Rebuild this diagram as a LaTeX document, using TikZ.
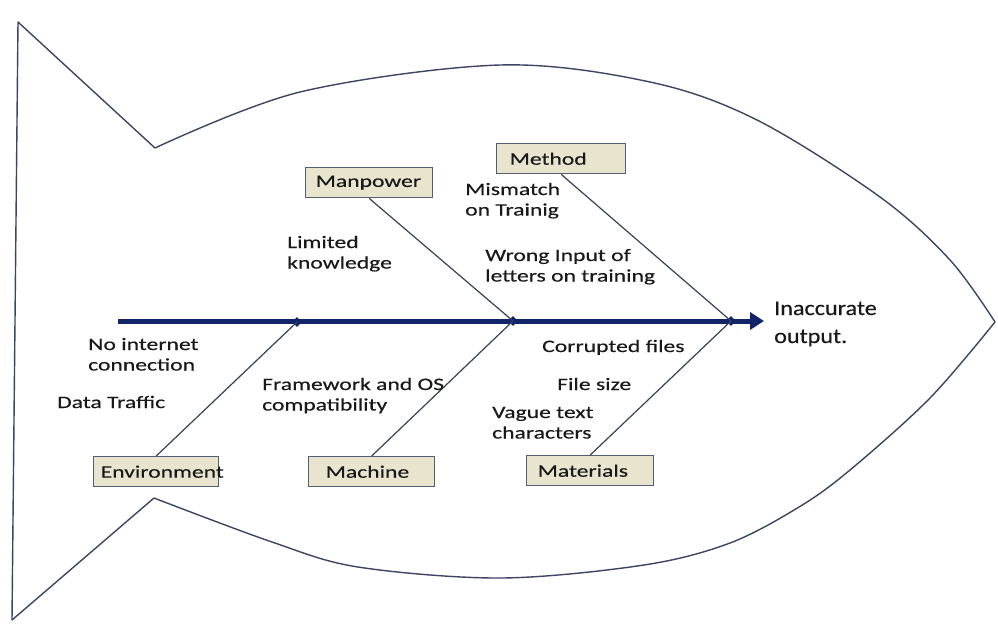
\documentclass[tikz,border=0pt]{standalone}
\usepackage{fontspec}
\setmainfont{Carlito}[FakeStretch=1.35,FakeBold=0.35]
\newfontfamily\bigfont{Carlito}[FakeStretch=1.15,FakeBold=0.3]
\usetikzlibrary{arrows.meta,shapes.geometric}
\definecolor{spine}{RGB}{18,36,104}
\definecolor{outline}{RGB}{60,70,100}
\definecolor{branch}{RGB}{55,65,90}
\definecolor{boxfill}{RGB}{233,228,206}
\definecolor{boxline}{RGB}{85,95,115}
\definecolor{ink}{RGB}{25,25,25}
\newcommand{\mytwo}[2]{\begin{tabular}[t]{@{}l@{}}#1\\#2\end{tabular}}
\tikzset{
  fish/.style={draw=outline, line width=1.4pt, line join=round},
  catbox/.style={draw=boxline, fill=boxfill, line width=1.4pt, rectangle,
    inner ysep=0pt, minimum height=30pt, anchor=north west, text=ink,
    font=\fontsize{17.5}{21}\selectfont},
  cause/.style={anchor=base west, inner sep=0pt, text=ink,
    font=\fontsize{17.5}{20.5}\selectfont},
  bone/.style={draw=branch, line width=1.2pt},
  joint/.style={diamond, fill=spine, inner sep=0pt, minimum size=10pt}
}
\begin{document}
\begin{tikzpicture}[x=1pt,y=-1pt]
\useasboundingbox (0,0) rectangle (998,633);
\fill[white] (0,0) rectangle (998,633);
% fish outline
\draw[fish] (12,620) -- (18,22) -- (155,148)
  plot[smooth, tension=0.55] coordinates {(155,148) (300,92) (500,65) (650,82) (757,120) (880,197) (950,260) (995,322)};
\draw[fish] (12,620) -- (154,498)
  plot[smooth, tension=0.55] coordinates {(154,498) (272,542) (358,567) (501,578) (644,565) (730,543) (799,507) (850,470) (930,398) (995,322)};
% spine
\coordinate (tail) at (118,321);
\coordinate (head) at (764,321);
\draw[spine, line width=5pt, -{Triangle[length=14pt,width=17pt]}] (tail) -- (head);
\node[joint] (j1) at (297,322) {};
\node[joint] (j2) at (513,321) {};
\node[joint] (j3) at (731,321) {};
% category boxes
\node[catbox, inner xsep=10pt] (man) at (305,167) {\makebox[107pt][l]{Manpower}};
\node[catbox, inner xsep=13pt] (met) at (496,143) {\makebox[103pt][l]{Method}};
\node[catbox, inner xsep=7pt] (env) at (93,456) {\makebox[111pt][l]{Environment}};
\node[catbox, inner xsep=17pt] (mac) at (308,456) {\makebox[92pt][l]{Machine}};
\node[catbox, inner xsep=11pt] (mat) at (526,455) {\makebox[105pt][l]{Materials}};
% bones
\draw[bone] (man.south) -- (j2.center);
\draw[bone] (met.south) -- (j3.center);
\draw[bone] (env.north) -- (j1.center);
\draw[bone] (mac.north) -- (j2.center);
\draw[bone] (mat.north) -- (j3.center);
% causes
\node[cause] (c1) at (287,248) {\mytwo{Limited}{knowledge}};
\node[cause] (c2) at (465,195) {\mytwo{Mismatch}{on Trainig}};
\node[cause] (c3) at (485,261) {\mytwo{Wrong Input of}{letters on training}};
\node[cause] (c4) at (88,350) {\mytwo{No internet}{connection}};
\node[cause] (c5) at (57,408) {Data Traffic};
\node[cause] (c6) at (262,390) {\mytwo{Framework and OS}{compatibility}};
\node[cause] (c7) at (542,352) {Corrupted files};
\node[cause] (c8) at (557,390) {File size};
\node[cause] (c9) at (492,418) {\mytwo{Vague text}{characters}};
\node[cause, font=\bigfont\fontsize{21}{28}\selectfont] (eff) at (774,315) {\mytwo{Inaccurate}{output.}};
\end{tikzpicture}
\end{document}
